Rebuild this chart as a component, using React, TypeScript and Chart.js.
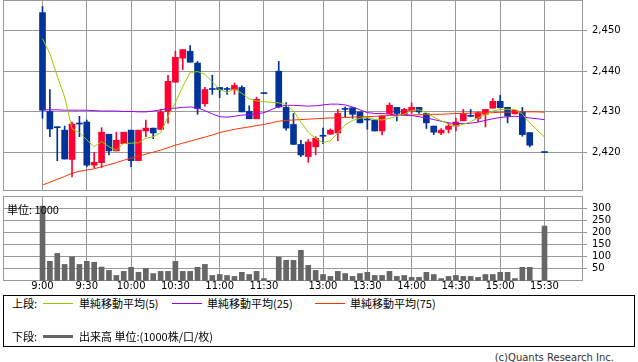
import React, { useEffect, useRef } from "react";
import { Chart, registerables } from "chart.js";

Chart.register(...registerables);

// x positions are 5-minute bar slots: 9:00 = 0 ... 11:30 = 30, (lunch gap 31), 12:30 = 32 ... 15:30 = 68
const tickIndex = [0, 6, 12, 18, 24, 30, 38, 44, 50, 56, 62, 68];
const tickLabels = ["9:00", "9:30", "10:00", "10:30", "11:00", "11:30", "13:00", "13:30", "14:00", "14:30", "15:00", "15:30"];
const priceTicks = [2420, 2430, 2440, 2450];
const volumeTicks = [50, 100, 150, 200, 250, 300];

const opens = [
  2454.4, 2430.1, 2426.1, 2425.5, 2418.3, 2427.0, 2427.5, 2416.9, 2417.5, 2424.5,
  2420.4, 2422.2, 2425.5, 2418.0, 2425.3, 2426.0, 2425.7, 2430.1, 2437.3, 2443.2,
  2444.9, 2442.0, 2432.0, 2435.5, 2436.0, 2435.5, 2435.5, 2436.0, 2430.1, 2428.3,
  2434.5, null, 2440.0, 2431.1, 2426.9, 2422.0, 2419.0, 2421.4, 2424.0, 2424.5,
  2424.8, 2430.6, 2431.0, 2430.0, 2428.0, 2428.0, 2425.3, 2429.6, 2431.1, 2429.2,
  2430.2, 2431.1, 2429.6, 2426.5, 2424.8, 2425.7, 2426.5, 2427.8, 2428.9, 2428.4,
  2429.4, 2430.9, 2432.6, 2431.1, 2429.5, 2430.0, 2424.9, null, 2420.0,
];
const highs = [
  2455.9, 2435.5, 2426.3, 2426.5, 2427.5, 2428.9, 2428.0, 2420.0, 2426.1, 2424.5,
  2425.0, 2425.0, 2425.5, 2425.5, 2428.0, 2426.0, 2430.6, 2439.0, 2444.9, 2445.3,
  2446.3, 2442.4, 2436.0, 2439.0, 2436.0, 2436.0, 2437.1, 2436.4, 2431.5, 2433.6,
  2434.5, null, 2442.4, 2432.3, 2429.6, 2423.0, 2423.2, 2423.9, 2426.0, 2425.8,
  2430.6, 2431.2, 2431.0, 2430.0, 2428.8, 2428.0, 2429.0, 2432.2, 2431.1, 2430.9,
  2432.2, 2431.1, 2429.6, 2426.5, 2425.9, 2427.3, 2428.4, 2430.6, 2430.6, 2430.0,
  2430.6, 2433.3, 2434.1, 2431.1, 2430.4, 2431.1, 2424.9, null, 2420.0,
];
const lows = [
  2428.4, 2423.9, 2418.0, 2418.4, 2414.0, 2423.9, 2416.5, 2416.3, 2416.3, 2419.4,
  2420.4, 2422.2, 2416.5, 2418.0, 2423.9, 2423.4, 2425.7, 2427.2, 2437.3, 2440.4,
  2442.2, 2429.4, 2431.4, 2434.3, 2433.5, 2434.3, 2434.3, 2430.0, 2428.3, 2428.3,
  2434.5, null, 2431.0, 2425.5, 2422.0, 2419.0, 2417.6, 2419.4, 2422.2, 2424.5,
  2422.9, 2428.8, 2428.4, 2427.3, 2425.7, 2425.3, 2424.3, 2429.6, 2427.8, 2429.2,
  2429.6, 2429.6, 2425.9, 2424.4, 2424.4, 2424.8, 2425.3, 2427.8, 2428.8, 2427.5,
  2426.3, 2430.9, 2431.0, 2427.3, 2429.5, 2424.0, 2421.4, null, 2420.0,
];
const closes = [
  2430.4, 2425.8, 2426.1, 2418.4, 2427.0, 2427.0, 2416.9, 2417.6, 2425.0, 2420.4,
  2423.0, 2425.0, 2418.0, 2425.5, 2426.0, 2424.8, 2430.0, 2437.5, 2443.4, 2445.3,
  2442.2, 2430.8, 2435.5, 2435.5, 2435.5, 2435.5, 2436.5, 2430.0, 2428.3, 2433.1,
  2434.5, null, 2431.2, 2426.0, 2422.0, 2419.4, 2422.6, 2423.5, 2424.0, 2425.5,
  2429.6, 2430.6, 2429.4, 2427.3, 2428.0, 2425.3, 2429.0, 2431.6, 2429.6, 2430.6,
  2431.1, 2430.0, 2427.3, 2425.0, 2425.5, 2426.5, 2427.5, 2429.6, 2428.9, 2429.8,
  2430.6, 2432.6, 2431.0, 2429.0, 2430.4, 2424.4, 2421.8, null, 2420.0,
];
const volumes = [
  310, 80, 113, 67, 99, 67, 80, 76, 56, 42,
  21, 38, 55, 34, 50, 29, 38, 38, 80, 38,
  38, 55, 67, 21, 25, 21, 17, 34, 25, 38,
  8, null, 97, 84, 84, 126, 63, 42, 25, 17,
  38, 29, 17, 29, 34, 21, 21, 38, 17, 21,
  13, 13, 34, 25, 8, 17, 21, 17, 17, 13,
  25, 25, 34, 34, 8, 55, 55, null, 227,
];
const sma5 = [
  2448.0, 2444.3, 2438.8, 2433.6, 2425.8, 2424.9, 2423.1, 2421.4, 2422.7, 2421.4,
  2420.6, 2422.2, 2422.3, 2422.4, 2423.5, 2423.9, 2424.9, 2428.8, 2432.3, 2436.2,
  2439.7, 2439.9, 2439.2, 2437.4, 2435.5, 2434.8, 2435.6, 2434.6, 2433.2, 2432.7,
  2432.5, null, 2432.2, 2431.8, 2430.2, 2427.5, 2425.0, 2423.5, 2422.4, 2422.9,
  2424.8, 2426.8, 2427.9, 2428.4, 2428.7, 2428.1, 2428.0, 2428.4, 2428.9, 2429.4,
  2430.4, 2430.5, 2429.8, 2428.7, 2427.8, 2427.0, 2426.5, 2426.9, 2427.6, 2428.5,
  2429.3, 2430.2, 2430.6, 2430.6, 2430.6, 2429.5, 2427.3, 2425.5, 2423.8,
];
const sma25 = [
  2430.5, 2430.5, 2430.5, 2430.4, 2430.4, 2430.4, 2430.4, 2430.3, 2430.2, 2430.2,
  2430.2, 2430.1, 2430.1, 2430.0, 2430.0, 2430.2, 2430.5, 2430.8, 2430.9, 2431.1,
  2431.2, 2431.0, 2430.3, 2429.5, 2428.8, 2428.7, 2428.9, 2429.2, 2429.3, 2429.5,
  2429.8, null, 2431.3, 2431.6, 2431.6, 2431.5, 2431.4, 2431.5, 2431.7, 2431.9,
  2431.9, 2431.7, 2431.2, 2430.5, 2429.8, 2429.6, 2429.6, 2429.4, 2429.2, 2429.2,
  2429.1, 2428.8, 2428.5, 2428.1, 2427.7, 2427.3, 2427.1, 2427.1, 2427.2, 2427.5,
  2427.9, 2428.3, 2428.6, 2428.8, 2428.9, 2428.8, 2428.5, 2428.3, 2428.1,
];
const sma75 = [
  2412.0, 2412.7, 2413.4, 2414.1, 2414.9, 2415.4, 2415.7, 2416.0, 2416.5, 2417.0,
  2417.5, 2418.1, 2418.6, 2419.1, 2419.6, 2420.1, 2420.6, 2421.2, 2421.8, 2422.3,
  2422.8, 2423.3, 2423.8, 2424.3, 2424.9, 2425.3, 2425.7, 2426.0, 2426.3, 2426.6,
  2426.9, null, 2427.7, 2427.9, 2428.0, 2428.1, 2428.2, 2428.3, 2428.4, 2428.5,
  2428.5, 2428.6, 2428.7, 2428.8, 2428.8, 2428.9, 2429.0, 2429.1, 2429.1, 2429.2,
  2429.2, 2429.3, 2429.3, 2429.4, 2429.4, 2429.5, 2429.6, 2429.6, 2429.7, 2429.7,
  2429.8, 2429.8, 2429.9, 2429.9, 2430.0, 2430.0, 2430.0, 2430.0, 2429.9,
];

const UP = "#ff0033";
const DOWN = "#003399";
const GRID = "#999999";
const X_MIN = -5.351;
const X_MAX = 73.215;

const framePlugin = {
  id: "frame",
  beforeDatasetsDraw(chart: any) {
    const { ctx, chartArea } = chart;
    const { left, top, right, bottom } = chartArea;
    ctx.save();
    ctx.strokeStyle = GRID;
    ctx.lineWidth = 1;
    ctx.strokeRect(left + 0.5, top + 0.5, right - left - 1, bottom - top - 1);
    ctx.restore();
  },
};

function pts(arr: (number | null)[]) {
  const out: { x: number; y: number }[] = [];
  arr.forEach((v, i) => {
    if (v !== null) out.push({ x: i, y: v });
  });
  return out;
}

const tickFont = { family: "'DejaVu Sans', sans-serif", size: 10, lineHeight: 1 };

export default function App() {
  const priceRef = useRef<HTMLCanvasElement | null>(null);
  const volRef = useRef<HTMLCanvasElement | null>(null);

  useEffect(() => {
    const bodies: any[] = [];
    const wicks: any[] = [];
    const colors: string[] = [];
    opens.forEach((o, i) => {
      const c = closes[i];
      if (o === null || c === null) return;
      bodies.push({ x: i, y: [o, c] });
      wicks.push({ x: i, y: [lows[i], highs[i]] });
      colors.push((c as number) > (o as number) ? UP : DOWN);
    });

    const xScale = (showLabels: boolean) => ({
      type: "linear",
      min: X_MIN,
      max: X_MAX,
      offset: false,
      position: "bottom",
      grid: { color: GRID, drawTicks: false, offset: false },
      border: { display: false },
      ticks: {
        display: showLabels,
        autoSkip: false,
        maxRotation: 0,
        padding: 0,
        color: "#000",
        font: tickFont,
        callback: (v: number) => {
          const k = tickIndex.indexOf(v);
          return k >= 0 ? tickLabels[k] : "";
        },
      },
      afterBuildTicks: (s: any) => {
        s.ticks = tickIndex.map((v) => ({ value: v }));
      },
      afterFit: (s: any) => {
        s.height = showLabels ? 14 : 0;
        s.paddingLeft = 0;
        s.paddingRight = 0;
      },
    });

    const priceChart = new Chart(priceRef.current as HTMLCanvasElement, {
      type: "bar",
      data: {
        datasets: [
          { type: "line", label: "単純移動平均(5)", data: pts(sma5), borderColor: "#99cc00", borderWidth: 1, pointRadius: 0, tension: 0, order: 0, spanGaps: true },
          { type: "line", label: "単純移動平均(25)", data: pts(sma25), borderColor: "#9900ff", borderWidth: 1, pointRadius: 0, tension: 0, order: 0, spanGaps: true },
          { type: "line", label: "単純移動平均(75)", data: pts(sma75), borderColor: "#ff3300", borderWidth: 1, pointRadius: 0, tension: 0, order: 0, spanGaps: true },
          { type: "bar", label: "body", data: bodies, backgroundColor: colors, barThickness: 6, grouped: false, minBarLength: 1, borderWidth: 0, order: 1 },
          { type: "bar", label: "wick", data: wicks, backgroundColor: colors, barThickness: 1, grouped: false, borderWidth: 0, order: 2 },
        ] as any,
      },
      options: {
        animation: false,
        responsive: false,
        maintainAspectRatio: false,
        events: [],
        layout: { padding: { left: 3, top: 0, right: 0, bottom: 0 } },
        plugins: { legend: { display: false }, tooltip: { enabled: false } },
        scales: {
          x: xScale(false) as any,
          y: {
            type: "linear",
            position: "right",
            min: 2410.54,
            max: 2457.5,
            grid: { color: GRID, tickLength: 4 },
            border: { display: false },
            ticks: {
              padding: 5,
              color: "#000",
              font: tickFont,
              callback: (v: any) => Number(v).toLocaleString("en-US"),
            },
            afterBuildTicks: (s: any) => {
              s.ticks = priceTicks.map((v) => ({ value: v }));
            },
            afterFit: (s: any) => {
              s.width = 55;
              s.paddingTop = 0;
              s.paddingBottom = 0;
            },
          } as any,
        },
      },
      plugins: [framePlugin],
    });

    const volChart = new Chart(volRef.current as HTMLCanvasElement, {
      type: "bar",
      data: {
        datasets: [
          { label: "出来高", data: pts(volumes), backgroundColor: "#666666", barThickness: 5, grouped: false, borderWidth: 0 },
        ] as any,
      },
      options: {
        animation: false,
        responsive: false,
        maintainAspectRatio: false,
        events: [],
        layout: { padding: { left: 3, top: 4, right: 0, bottom: 0 } },
        plugins: { legend: { display: false }, tooltip: { enabled: false } },
        scales: {
          x: xScale(true) as any,
          y: {
            type: "linear",
            position: "right",
            min: -2.083,
            max: 352.08,
            grid: { color: GRID, tickLength: 4 },
            border: { display: false },
            ticks: { padding: 5, color: "#000", font: tickFont },
            afterBuildTicks: (s: any) => {
              s.ticks = volumeTicks.map((v) => ({ value: v }));
            },
            afterFit: (s: any) => {
              s.width = 55;
              s.paddingTop = 0;
              s.paddingBottom = 0;
            },
          } as any,
        },
      },
      plugins: [framePlugin],
    });

    return () => {
      priceChart.destroy();
      volChart.destroy();
    };
  }, []);

  const cjk = "'Noto Sans CJK JP', 'DejaVu Sans', sans-serif";
  const txt = (left: number, top: number, s: string) => (
    <div style={{ position: "absolute", left, top, fontFamily: cjk, fontSize: 11, lineHeight: "12px", whiteSpace: "nowrap", color: "#000" }}>{s}</div>
  );
  const line = (left: number, top: number, h: number, color: string) => (
    <div style={{ position: "absolute", left, top, width: 30, height: h, background: color }} />
  );

  return (
    <div style={{ position: "absolute", left: 0, top: 0, width: 638, height: 362, background: "#fff", overflow: "hidden" }}>
      <canvas ref={priceRef} width={638} height={191} style={{ position: "absolute", left: 0, top: 0, width: 638, height: 191 }} />
      <canvas ref={volRef} width={638} height={103} style={{ position: "absolute", left: 0, top: 192, width: 638, height: 103 }} />
      {txt(7, 202.5, "単位: 1000")}
      <div style={{ position: "absolute", left: 3, top: 295, width: 632, height: 52, boxSizing: "border-box", border: "1px solid #000" }} />
      {txt(12, 297, "上段:")}
      {line(43, 303, 1, "#99cc00")}
      {txt(79, 297, "単純移動平均(5)")}
      {line(172, 303, 1, "#9900ff")}
      {txt(207, 297, "単純移動平均(25)")}
      {line(315, 303, 1, "#ff3300")}
      {txt(350, 297, "単純移動平均(75)")}
      {txt(12, 330.3, "下段:")}
      {line(43, 335, 3, "#666666")}
      {txt(79, 330.3, "出来高 単位:(1000株/口/枚)")}
      <div style={{ position: "absolute", right: 24, top: 352, fontFamily: "'DejaVu Sans', sans-serif", fontSize: 10, lineHeight: "12px", whiteSpace: "nowrap", color: "#333" }}>(c)Quants Research Inc.</div>
    </div>
  );
}
